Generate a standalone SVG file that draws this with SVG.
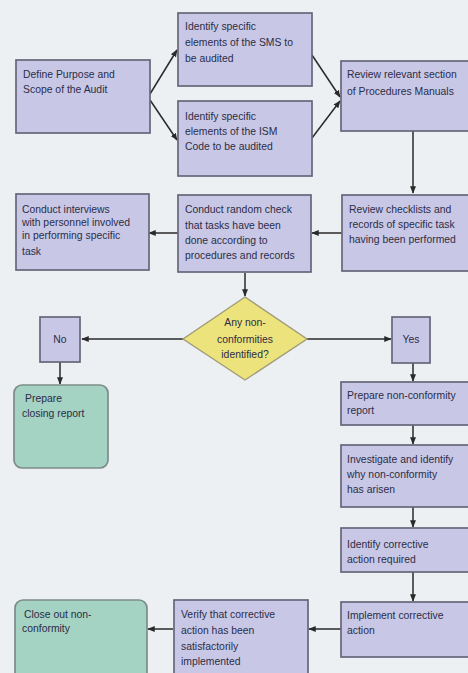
<svg xmlns="http://www.w3.org/2000/svg" width="468" height="673" viewBox="0 0 468 673">
<defs>
<marker id="ah" viewBox="0 0 10 10" refX="9" refY="5" markerWidth="5" markerHeight="5" orient="auto">
<path d="M0,1 L10,5 L0,9 z" fill="#2a2a2a"/>
</marker>
<style>
.b{fill:#c8c8e6;stroke:#66667a;stroke-width:1.7}
.g{fill:#a4d2c3;stroke:#7d8c89;stroke-width:1.7}
.d{fill:#ece37c;stroke:#a09c78;stroke-width:1.4}
.t{font-family:"Liberation Sans",Arial,sans-serif;font-size:10.4px;fill:#2c2c46}
.c{text-anchor:middle}
.k{fill:none;stroke:#2a2a2a;stroke-width:1.5;marker-end:url(#ah)}
</style>
</defs>
<rect width="468" height="673" fill="#edf0f3"/>

<g id="connectors">
<line class="k" x1="150" y1="94" x2="177" y2="50"/>
<line class="k" x1="150" y1="100" x2="177" y2="140"/>
<line class="k" x1="312" y1="55" x2="340" y2="97"/>
<line class="k" x1="312" y1="138" x2="340" y2="101"/>
<line class="k" x1="413" y1="131" x2="413" y2="193"/>
<line class="k" x1="342" y1="233" x2="312" y2="233"/>
<line class="k" x1="178" y1="233" x2="149" y2="233"/>
<line class="k" x1="245" y1="273" x2="245" y2="296"/>
<line class="k" x1="183" y1="339" x2="82" y2="339"/>
<line class="k" x1="307" y1="339" x2="391" y2="339"/>
<line class="k" x1="60" y1="362" x2="60" y2="384"/>
<line class="k" x1="413" y1="363" x2="413" y2="381"/>
<line class="k" x1="413" y1="425" x2="413" y2="444"/>
<line class="k" x1="413" y1="507" x2="413" y2="527"/>
<line class="k" x1="413" y1="572" x2="413" y2="601"/>
<line class="k" x1="341" y1="629" x2="309" y2="629"/>
<line class="k" x1="173" y1="629" x2="148" y2="629"/>
</g>

<g id="define">
<rect class="b" x="16" y="60" width="134" height="73"/>
<text class="t" x="23" y="78">Define Purpose and</text>
<text class="t" x="23" y="93">Scope of the Audit</text>
</g>

<g id="sms">
<rect class="b" x="178" y="13" width="134" height="73"/>
<text class="t" x="185" y="30">Identify specific</text>
<text class="t" x="185" y="46">elements of the SMS to</text>
<text class="t" x="185" y="62">be audited</text>
</g>

<g id="ism">
<rect class="b" x="178" y="101" width="134" height="75"/>
<text class="t" x="185" y="120">Identify specific</text>
<text class="t" x="185" y="135">elements of the ISM</text>
<text class="t" x="185" y="150">Code to be audited</text>
</g>

<g id="review-sections">
<rect class="b" x="341" y="61" width="135" height="70"/>
<text class="t" x="347" y="78">Review relevant section</text>
<text class="t" x="347" y="95">of Procedures Manuals</text>
</g>

<g id="interviews">
<rect class="b" x="16" y="194" width="133" height="76"/>
<text class="t" x="22" y="213">Conduct interviews</text>
<text class="t" x="22" y="226">with personnel involved</text>
<text class="t" x="22" y="239">in performing specific</text>
<text class="t" x="22" y="255">task</text>
</g>

<g id="random-check">
<rect class="b" x="178" y="195" width="133" height="77"/>
<text class="t" x="185" y="213">Conduct random check</text>
<text class="t" x="185" y="229">that tasks have been</text>
<text class="t" x="185" y="244">done according to</text>
<text class="t" x="185" y="259">procedures and records</text>
</g>

<g id="review-checklists">
<rect class="b" x="342" y="195" width="134" height="76"/>
<text class="t" x="349" y="213">Review checklists and</text>
<text class="t" x="349" y="228">records of specific task</text>
<text class="t" x="349" y="243">having been performed</text>
</g>

<g id="decision">
<polygon class="d" points="245,297 307,339 245,380 183,339"/>
<text class="t c" x="245" y="326">Any non-</text>
<text class="t c" x="245" y="343">conformities</text>
<text class="t c" x="245" y="358">identified?</text>
</g>

<g id="no">
<rect class="b" x="40" y="317" width="40" height="45"/>
<text class="t c" x="60" y="343">No</text>
</g>

<g id="yes">
<rect class="b" x="392" y="317" width="38" height="46"/>
<text class="t c" x="411" y="343">Yes</text>
</g>

<g id="closing-report">
<rect class="g" x="14" y="385" width="94" height="83" rx="8"/>
<text class="t" x="25" y="402">Prepare</text>
<text class="t" x="22" y="417">closing report</text>
</g>

<g id="nc-report">
<rect class="b" x="341" y="382" width="135" height="43"/>
<text class="t" x="347" y="399">Prepare non-conformity</text>
<text class="t" x="347" y="414">report</text>
</g>

<g id="investigate">
<rect class="b" x="341" y="445" width="135" height="62"/>
<text class="t" x="347" y="463">Investigate and identify</text>
<text class="t" x="347" y="478">why non-conformity</text>
<text class="t" x="347" y="493">has arisen</text>
</g>

<g id="identify-corrective">
<rect class="b" x="341" y="528" width="135" height="44"/>
<text class="t" x="347" y="548">Identify corrective</text>
<text class="t" x="347" y="563">action required</text>
</g>

<g id="implement">
<rect class="b" x="341" y="602" width="135" height="55"/>
<text class="t" x="347" y="619">Implement corrective</text>
<text class="t" x="347" y="634">action</text>
</g>

<g id="verify">
<rect class="b" x="174" y="600" width="134" height="80"/>
<text class="t" x="181" y="618">Verify that corrective</text>
<text class="t" x="181" y="634">action has been</text>
<text class="t" x="181" y="650">satisfactorily</text>
<text class="t" x="181" y="665">implemented</text>
</g>

<g id="close-out">
<rect class="g" x="15" y="600" width="132" height="85" rx="8"/>
<text class="t" x="24" y="618">Close out non-</text>
<text class="t" x="22" y="632">conformity</text>
</g>
</svg>
